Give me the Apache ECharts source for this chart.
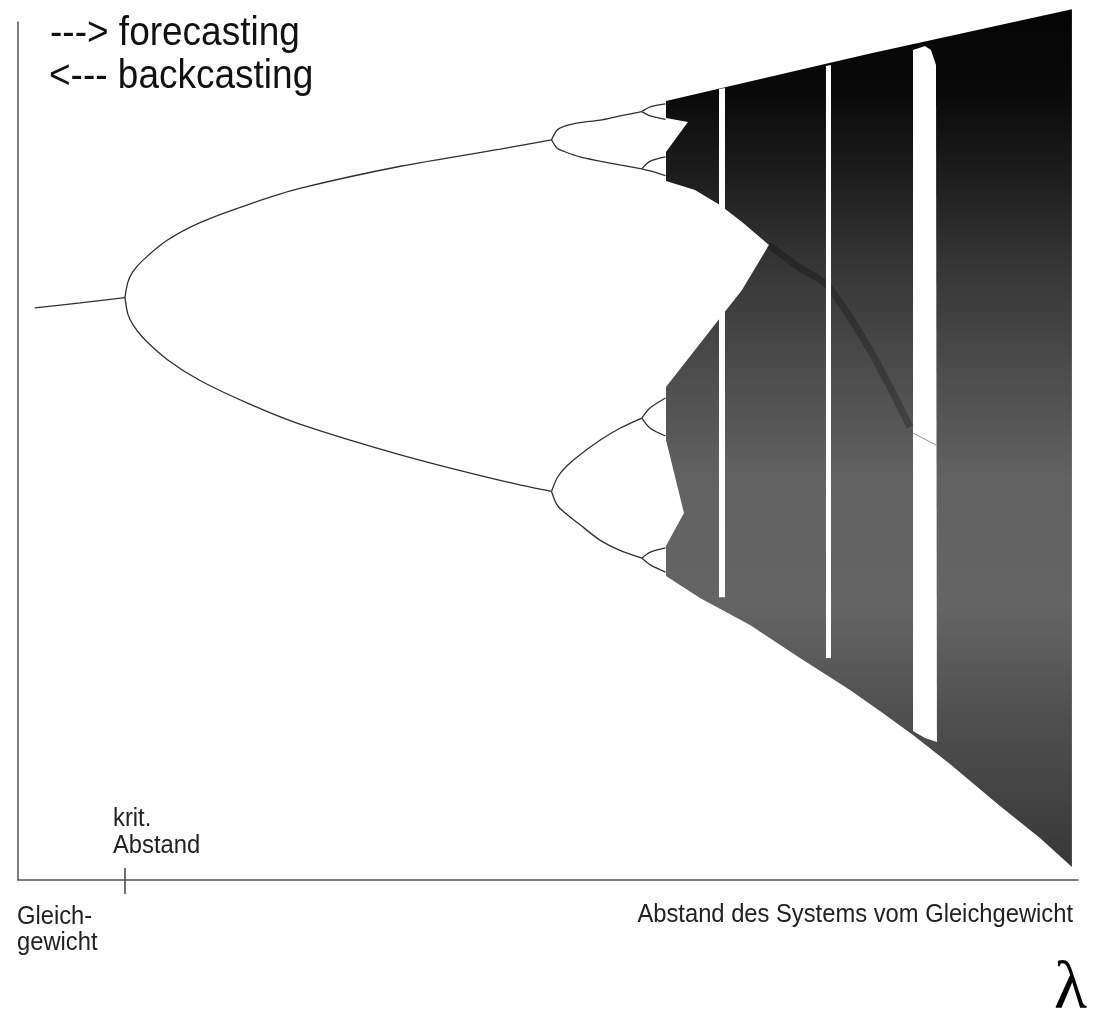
<!DOCTYPE html>
<html>
<head>
<meta charset="utf-8">
<script src="https://cdn.jsdelivr.net/npm/echarts@6/dist/echarts.min.js"></script>
<style>html,body{margin:0;padding:0;background:#fff}#chart{width:1093px;height:1016px}</style>
</head>
<body>
<div id="chart"></div>
<script>
// ---- axis extents (lambda on x, state value on y) ----
const lambdaRange = [2.8874, 4.0032];
const stateRange = [-0.0152, 0.990];
const critTick = [3.0];

// ---- stable branches (lambda, state) ----
const fixedPoint = [[2.905,0.655],[2.953,0.661],[3.0,0.667]];
const period2Upper = [[3.0,0.667],[3.003,0.685],[3.008,0.697],[3.019,0.711],[3.044,0.734],[3.079,0.755],[3.132,0.777],[3.184,0.795],[3.29,0.821],[3.395,0.841],[3.449,0.852]];
const period2Lower = [[3.0,0.667],[3.003,0.648],[3.008,0.636],[3.019,0.620],[3.044,0.595],[3.079,0.570],[3.132,0.542],[3.184,0.519],[3.29,0.483],[3.395,0.453],[3.449,0.440]];
const period4A = [[3.449,0.852],[3.455,0.8635],[3.463,0.868],[3.479,0.872],[3.5,0.875],[3.521,0.880],[3.544,0.885]];
const period4B = [[3.449,0.852],[3.455,0.842],[3.463,0.838],[3.479,0.832],[3.5,0.827],[3.521,0.8225],[3.544,0.818]];
const period4C = [[3.449,0.440],[3.455,0.456],[3.463,0.4675],[3.479,0.483],[3.5,0.500],[3.521,0.514],[3.544,0.526]];
const period4D = [[3.449,0.440],[3.455,0.424],[3.463,0.415],[3.479,0.401],[3.5,0.383],[3.521,0.371],[3.544,0.362]];
const period8A = [[3.544,0.885],[3.553,0.8905],[3.569,0.894]];
const period8B = [[3.544,0.885],[3.553,0.880],[3.569,0.876]];
const period8C = [[3.544,0.818],[3.553,0.827],[3.569,0.832]];
const period8D = [[3.544,0.818],[3.553,0.8155],[3.569,0.810]];
const period8E = [[3.544,0.526],[3.553,0.538],[3.569,0.5495]];
const period8F = [[3.544,0.526],[3.553,0.514],[3.569,0.505]];
const period8G = [[3.544,0.362],[3.553,0.369],[3.569,0.374]];
const period8H = [[3.544,0.362],[3.553,0.354],[3.569,0.3456]];

// ---- chaotic region outline (lambda, state) ----
const chaosOutline = [
  [3.5695,0.8975],[3.7821,0.9525],[3.9968,1.005],[3.9968,0.0],
  [3.9632,0.034],[3.9211,0.0715],[3.8684,0.1207],[3.8295,0.1547],[3.7947,0.1828],
  [3.7632,0.2074],[3.7105,0.2449],[3.6579,0.2835],[3.6053,0.3152],[3.5695,0.3409],
  [3.5695,0.3761],[3.5884,0.4148],[3.5695,0.5003],[3.5695,0.5624],
  [3.6,0.6057],[3.6263,0.6432],[3.6495,0.676],[3.6779,0.7288],
  [3.6495,0.7557],[3.6263,0.7756],[3.6,0.7932],[3.5695,0.8038],
  [3.5695,0.8377],[3.5926,0.8729],[3.5695,0.8776]
];
// periodic windows inside the chaos (white gaps)
const window3 = [[3.8295,0.9572],[3.8421,0.9619],[3.8484,0.9572],[3.8537,0.9397],[3.8547,0.1465],[3.8421,0.1511],[3.8295,0.1593]];
const window5 = [[3.7379,0.9385],[3.7432,0.9397],[3.7432,0.245],[3.7379,0.245]];
const window6 = [[3.6253,0.9115],[3.6316,0.9127],[3.6316,0.316],[3.6253,0.316]];
const window3Middle = [[3.8295,0.5085],[3.8537,0.4944]];
const darkCurve = [[3.6779,0.7288],[3.7105,0.7018],[3.7389,0.6819],[3.7842,0.6057],[3.8263,0.5155]];

const branchList = [fixedPoint, period2Upper, period2Lower, period4A, period4B, period4C, period4D,
  period8A, period8B, period8C, period8D, period8E, period8F, period8G, period8H];

function polygonSeries(pts, fill, z) {
  return {
    type: 'custom', silent: true, clip: false, z: z,
    data: pts, encode: {x: 0, y: 1},
    renderItem: function (params, api) {
      if (params.dataIndex !== 0) return null;
      return {
        type: 'polygon',
        shape: {points: pts.map(function (p) { return api.coord(p); })},
        style: {fill: typeof fill === 'function' ? fill() : fill}
      };
    }
  };
}

function lineSeries(pts, color, width, z, smooth) {
  return {
    type: 'line', data: pts, showSymbol: false, silent: true, clip: false, z: z,
    smooth: smooth, lineStyle: {color: color, width: width}
  };
}

const chaosFill = function () {
  return new echarts.graphic.LinearGradient(0, 0, 0, 1, [
    {offset: 0, color: '#050505'},
    {offset: 0.1, color: '#0a0a0a'},
    {offset: 0.2, color: '#1e1e1e'},
    {offset: 0.3, color: '#363636'},
    {offset: 0.42, color: '#4c4c4c'},
    {offset: 0.55, color: '#626262'},
    {offset: 0.7, color: '#646464'},
    {offset: 0.82, color: '#505050'},
    {offset: 1, color: '#383838'}
  ]);
};

const series = [];
series.push(polygonSeries(chaosOutline, chaosFill, 2));
series.push(lineSeries(darkCurve, 'rgba(0,0,0,0.25)', 7, 3, 0.3));
series.push(polygonSeries(window3, '#ffffff', 4));
series.push(polygonSeries(window5, '#ffffff', 4));
series.push(polygonSeries(window6, '#ffffff', 4));
series.push(lineSeries(window3Middle, '#999999', 1, 5, false));
branchList.forEach(function (b) { series.push(lineSeries(b, '#303030', 1.3, 6, 0.3)); });

const textFont = '"Liberation Sans", Arial, Helvetica, sans-serif';

const chart = echarts.init(document.getElementById('chart'), null, {renderer: 'canvas'});
chart.setOption({
  animation: false,
  backgroundColor: '#ffffff',
  grid: {left: 18, right: 15, top: 22, bottom: 136, outerBoundsMode: 'none'},
  xAxis: [{
    type: 'value', min: lambdaRange[0], max: lambdaRange[1],
    axisLine: {show: true, onZero: false, lineStyle: {color: '#555', width: 1.5}},
    axisTick: {show: true, customValues: critTick, length: 14, lineStyle: {color: '#444', width: 1.5}},
    axisLabel: {show: false}, splitLine: {show: false}
  }, {
    type: 'value', min: lambdaRange[0], max: lambdaRange[1], position: 'bottom',
    axisLine: {show: false, onZero: false},
    axisTick: {show: true, inside: true, customValues: critTick, length: 12, lineStyle: {color: '#444', width: 1.5}},
    axisLabel: {show: false}, splitLine: {show: false}
  }],
  yAxis: {
    type: 'value', min: stateRange[0], max: stateRange[1],
    axisLine: {show: true, onZero: false, lineStyle: {color: '#555', width: 1.5}},
    axisTick: {show: false}, axisLabel: {show: false}, splitLine: {show: false}
  },
  graphic: [
    {type: 'text', x: 50, y: 14, scaleX: 0.925, style: {text: '---> forecasting', font: '40px ' + textFont, fill: '#111', align: 'left', verticalAlign: 'top'}},
    {type: 'text', x: 49, y: 57, scaleX: 0.925, style: {text: '<--- backcasting', font: '40px ' + textFont, fill: '#111', align: 'left', verticalAlign: 'top'}},
    {type: 'text', x: 113, y: 807, scaleX: 0.95, style: {text: 'krit.', font: '25px ' + textFont, fill: '#222', verticalAlign: 'top'}},
    {type: 'text', x: 113, y: 834, scaleX: 0.95, style: {text: 'Abstand', font: '25px ' + textFont, fill: '#222', verticalAlign: 'top'}},
    {type: 'text', x: 17, y: 905, scaleX: 0.95, style: {text: 'Gleich-', font: '25px ' + textFont, fill: '#222', verticalAlign: 'top'}},
    {type: 'text', x: 17, y: 931, scaleX: 0.95, style: {text: 'gewicht', font: '25px ' + textFont, fill: '#222', verticalAlign: 'top'}},
    {type: 'text', x: 1073, y: 903, scaleX: 0.95, originX: 0, style: {text: 'Abstand des Systems vom Gleichgewicht', font: '25px ' + textFont, fill: '#222', align: 'right', verticalAlign: 'top'}},
    {type: 'text', x: 1087, y: 956, style: {text: 'λ', font: '68px "Liberation Serif", "DejaVu Serif", serif', fill: '#000', align: 'right', verticalAlign: 'top'}}
  ],
  series: series
});
</script>
</body>
</html>
